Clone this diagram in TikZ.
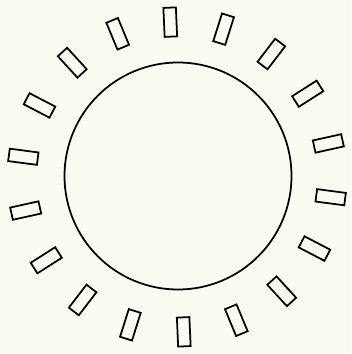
\documentclass[tikz,border=0pt]{standalone}
\usepackage{tikz}
\usetikzlibrary{shapes,positioning}
\definecolor{paper}{RGB}{251,251,244}

\begin{document}
\begin{tikzpicture}[
    ring/.style={draw, circle, line width=1pt, minimum size=4.54cm, inner sep=0pt},
    slot/.style={draw, rectangle, line width=1pt, minimum width=0.58cm, minimum height=0.25cm, inner sep=0pt},
]

% Background and frame
\fill[paper] (-3.54,-3.54) rectangle (3.48,3.54);
\useasboundingbox (-3.54,-3.54) rectangle (3.48,3.54);

% Central circle
\node[ring] (hub) at (0.02,0.02) {};

% Slots around the circle
\foreach \i in {0,...,17} {
  \pgfmathsetmacro{\ang}{92.5-20*\i}
  \node[slot, rotate=\ang] (slot\i) at (\ang:3.1) {};
}

\end{tikzpicture}
\end{document}
